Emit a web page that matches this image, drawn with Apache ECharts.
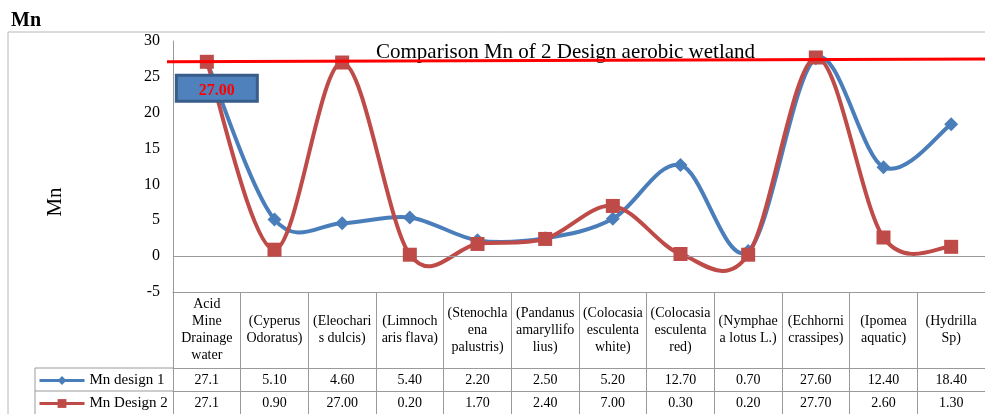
<!DOCTYPE html>
<html><head><meta charset="utf-8">
<script src="https://cdn.jsdelivr.net/npm/echarts@6/dist/echarts.min.js"></script>
<style>html,body{margin:0;padding:0;background:#fff}#c{width:985px;height:414px}</style>
</head><body><div id="c"></div>
<script>
const categories = [
  'Acid\nMine\nDrainage\nwater', '(Cyperus\nOdoratus)', '(Eleochari\ns dulcis)', '(Limnoch\naris flava)',
  '(Stenochla\nena\npalustris)', '(Pandanus\namaryllifo\nlius)', '(Colocasia\nesculenta\nwhite)',
  '(Colocasia\nesculenta\nred)', '(Nymphae\na lotus L.)', '(Echhorni\ncrassipes)', '(Ipomea\naquatic)', '(Hydrilla\nSp)'
];
const design1 = [27.1, 5.1, 4.6, 5.4, 2.2, 2.5, 5.2, 12.7, 0.7, 27.6, 12.4, 18.4];
const design2 = [27.1, 0.9, 27.0, 0.2, 1.7, 2.4, 7.0, 0.3, 0.2, 27.7, 2.6, 1.3];
const design1Labels = ['27.1', '5.10', '4.60', '5.40', '2.20', '2.50', '5.20', '12.70', '0.70', '27.60', '12.40', '18.40'];
const design2Labels = ['27.1', '0.90', '27.00', '0.20', '1.70', '2.40', '7.00', '0.30', '0.20', '27.70', '2.60', '1.30'];
const yMin = -5, yMax = 30, yStep = 5;
const refLineValues = [27.1, 27.5];
const calloutText = '27.00';

const serif = 'Liberation Serif';
const gridLine = '#9a9a9a';
const blue = '#4A7EBB', red = '#BE4B48';
const chart = echarts.init(document.getElementById('c'));

const tableAxis = (offset, labels, margin, showTicks) => ({
  type: 'category', data: categories, position: 'bottom', offset: offset, gridIndex: 0,
  boundaryGap: true,
  axisLine: { show: true, onZero: false, lineStyle: { color: gridLine, width: 1 } },
  axisTick: { show: showTicks, length: 122, interval: 0, lineStyle: { color: gridLine } },
  splitLine: { show: false },
  axisLabel: {
    interval: 0, margin: margin, verticalAlign: 'middle', hideOverlap: false,
    fontFamily: serif, fontSize: 14, lineHeight: 17, color: '#000',
    formatter: labels ? ((v, i) => labels[i]) : (v => v)
  }
});

// Excel-like smoothed curve (Catmull-Rom Bezier) drawn through the axes' scales
const smoothCurve = (color, z) => (params, api) => {
  const n = params.dataInsideLength;
  const i = params.dataIndexInside;
  if (i >= n - 1) return null;
  const P = k => { k = Math.max(0, Math.min(n - 1, k)); return api.coord([api.value(0, k), api.value(1, k)]); };
  const p0 = P(i - 1), p1 = P(i), p2 = P(i + 1), p3 = P(i + 2);
  const f = 1 / 6;
  return {
    type: 'bezierCurve', z2: z,
    shape: {
      x1: p1[0], y1: p1[1], x2: p2[0], y2: p2[1],
      cpx1: p1[0] + (p2[0] - p0[0]) * f, cpy1: p1[1] + (p2[1] - p0[1]) * f,
      cpx2: p2[0] - (p3[0] - p1[0]) * f, cpy2: p2[1] - (p3[1] - p1[1]) * f
    },
    style: { stroke: color, lineWidth: 4, fill: null, lineCap: 'round' }
  };
};

const legendBase = { left: 38, itemWidth: 45, itemHeight: 11, itemGap: 5, padding: 0,
  textStyle: { fontFamily: serif, fontSize: 15, color: '#000' } };

const option = {
  animation: false,
  backgroundColor: '#fff',
  title: [
    { text: 'Mn', left: 6, top: 6, textStyle: { fontFamily: serif, fontWeight: 'bold', fontSize: 20, color: '#000' } },
    { text: 'Comparison Mn of 2 Design aerobic wetland', left: 371, top: 37,
      textStyle: { fontFamily: serif, fontWeight: 'normal', fontSize: 21, color: '#000' } }
  ],
  legend: [
    Object.assign({}, legendBase, { data: ['Mn design 1'], top: 373, lineStyle: { color: blue, width: 3, opacity: 1 } }),
    Object.assign({}, legendBase, { data: ['Mn Design 2'], top: 396, lineStyle: { color: red, width: 3, opacity: 1 } })
  ],
  grid: { left: 173, top: 41, width: 816, height: 251, containLabel: false },
  xAxis: [
    tableAxis(0, null, 38, true),
    tableAxis(76, design1Labels, 12, false),
    tableAxis(99, design2Labels, 12, false)
  ],
  yAxis: {
    type: 'value', min: yMin, max: yMax, interval: yStep,
    axisLine: { show: true, lineStyle: { color: gridLine } },
    axisTick: { show: false },
    splitLine: { show: false },
    axisLabel: { fontFamily: serif, fontSize: 16, color: '#000', margin: 13 }
  },
  series: [
    {
      type: 'custom', name: 'curve1', data: design1.map((v, i) => [i, v]), encode: { x: 0, y: 1 },
      renderItem: smoothCurve(blue), z: 2, silent: true, clip: false,
      markLine: {
        silent: true, symbol: 'none', label: { show: false },
        lineStyle: { color: gridLine, width: 1, type: 'solid' },
        data: [{ yAxis: 0 }]
      }
    },
    {
      name: 'Mn design 1', type: 'line', data: design1, z: 3,
      symbol: 'diamond', symbolSize: 14,
      lineStyle: { color: blue, width: 4, opacity: 0 },
      itemStyle: { color: blue }
    },
    {
      type: 'custom', name: 'curve2', data: design2.map((v, i) => [i, v]), encode: { x: 0, y: 1 },
      renderItem: smoothCurve(red), z: 4, silent: true, clip: false
    },
    {
      name: 'Mn Design 2', type: 'line', z: 5,
      data: design2.map((v, i) => i === 0 ? {
        value: v,
        label: {
          show: true, position: 'bottom', distance: 8, offset: [10, 0],
          formatter: calloutText, color: '#FF0000', fontFamily: serif, fontWeight: 'bold', fontSize: 16,
          backgroundColor: '#4F81BD', borderColor: '#385D8A', borderWidth: 3,
          padding: [6, 21, 1, 21], lineHeight: 16
        }
      } : v),
      symbol: 'rect', symbolSize: 14,
      lineStyle: { color: red, width: 4, opacity: 0 },
      itemStyle: { color: red }
    }
  ]
};
chart.setOption(option);

const yL = chart.convertToPixel({ yAxisIndex: 0 }, refLineValues[0]);
const yR = chart.convertToPixel({ yAxisIndex: 0 }, refLineValues[1]);
const tableTop1 = 292 + 76, tableTop2 = 292 + 99;
chart.setOption({
  graphic: [
    { type: 'line', z: 100, shape: { x1: 167, y1: yL, x2: 985, y2: yR }, style: { stroke: '#FF0000', lineWidth: 3 } },
    { type: 'polyline', z: 1, shape: { points: [[8, 414], [8, 32], [985, 32]] }, style: { stroke: '#b8b8b8', lineWidth: 1, fill: null } },
    { type: 'line', z: 1, shape: { x1: 35, y1: tableTop1, x2: 173, y2: tableTop1 }, style: { stroke: gridLine, lineWidth: 1 } },
    { type: 'line', z: 1, shape: { x1: 35, y1: tableTop2, x2: 173, y2: tableTop2 }, style: { stroke: gridLine, lineWidth: 1 } },
    { type: 'line', z: 1, shape: { x1: 35, y1: tableTop1, x2: 35, y2: 414 }, style: { stroke: gridLine, lineWidth: 1 } },
    { type: 'text', z: 10, x: 55, y: 202, rotation: Math.PI / 2,
      style: { text: 'Mn', fontFamily: serif, fontSize: 21, fill: '#000', align: 'center', verticalAlign: 'middle' } }
  ]
});
</script></body></html>
